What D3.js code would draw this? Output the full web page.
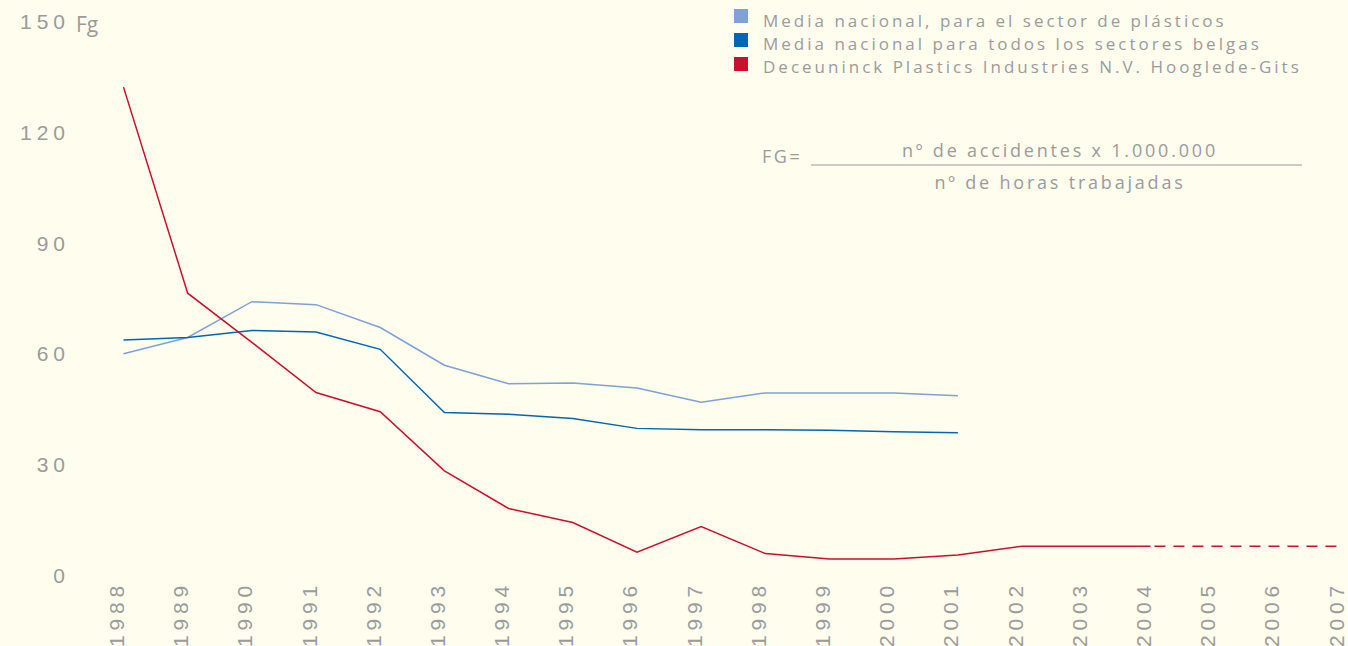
<!DOCTYPE html>
<html>
<head>
<meta charset="utf-8">
<script src="https://cdn.jsdelivr.net/npm/d3@7"></script>
<style>
  body { margin: 0; background: #fffdee; }
  svg { display: block; font-family: "Open Sans", "Noto Sans", sans-serif; }
  .tick text { fill: #9b9b9b; }
</style>
</head>
<body>
<div id="chart"></div>
<script>
// datos
var years = ["1988","1989","1990","1991","1992","1993","1994","1995","1996","1997",
             "1998","1999","2000","2001","2002","2003","2004","2005","2006","2007"];
var yTicks = [0, 30, 60, 90, 120, 150];

var plasticos  = [59.9, 64.3, 74.0, 73.2, 67.0, 56.8, 51.8, 52.0, 50.6, 46.8, 49.3, 49.3, 49.3, 48.5];
var todos      = [63.6, 64.3, 66.2, 65.8, 61.1, 44.0, 43.5, 42.4, 39.7, 39.3, 39.3, 39.2, 38.8, 38.5];
var deceuninck = [132.1, 76.3, 63.0, 49.4, 44.2, 28.2, 18.0, 14.2, 6.2, 13.1, 5.8, 4.3, 4.3, 5.4, 7.8, 7.8, 7.8];
var objetivo   = [7.8, 7.8, 7.8, 7.8]; // 2004 - 2007, a trazos

var legendNames = ["Media nacional, para el sector de plásticos",
                   "Media nacional para todos los sectores belgas",
                   "Deceuninck Plastics Industries N.V. Hooglede-Gits"];
var colors = ["#7fa1d6", "#0066b3", "#c8102e"];

var W = 1348, H = 646;
var svg = d3.select("#chart").append("svg").attr("width", W).attr("height", H);

var x = d3.scalePoint().domain(years).range([123.5, 1343]);
var y = d3.scaleLinear().domain([0, 150]).range([575, 21]);

// eje y
var yAxis = svg.append("g")
  .attr("transform", "translate(70,0)")
  .call(d3.axisLeft(y).tickValues(yTicks).tickSize(0).tickPadding(0));
yAxis.select(".domain").remove();
yAxis.selectAll("text")
  .style("font-size", "21px")
  .style("letter-spacing", "5px")
  .attr("dy", "0.36em");

svg.append("text")
  .attr("x", 76).attr("y", y(150) + 11)
  .style("font-size", "21px").style("fill", "#9b9b9b")
  .text("Fg");

// eje x
var xAxis = svg.append("g")
  .attr("transform", "translate(0,647)")
  .call(d3.axisBottom(x).tickSize(0).tickPadding(0));
xAxis.select(".domain").remove();
xAxis.selectAll("text")
  .style("font-size", "21px")
  .style("letter-spacing", "4.8px")
  .attr("text-anchor", "start")
  .attr("dy", 0).attr("y", 0)
  .attr("transform", "rotate(-90)");

// lineas
var line = d3.line()
  .x(function (d) { return x(d[0]); })
  .y(function (d) { return y(d[1]); });

function pairs(vals, start) {
  return vals.map(function (v, i) { return [years[start + i], v]; });
}

var series = [pairs(plasticos, 0), pairs(todos, 0), pairs(deceuninck, 0)];
series.forEach(function (s, i) {
  svg.append("path")
    .attr("d", line(s))
    .attr("fill", "none")
    .attr("stroke", colors[i])
    .attr("stroke-width", 1.5);
});

svg.append("path")
  .attr("d", line(pairs(objetivo, 16)))
  .attr("fill", "none")
  .attr("stroke", colors[2])
  .attr("stroke-width", 1.5)
  .attr("stroke-dasharray", "11,8")
  .attr("stroke-dashoffset", -4);

// leyenda
var leg = svg.append("g");
legendNames.forEach(function (n, i) {
  leg.append("rect")
    .attr("x", 734).attr("y", 9 + i * 24)
    .attr("width", 14).attr("height", 14)
    .attr("fill", colors[i]);
  leg.append("text")
    .attr("x", 763).attr("y", 27 + i * 23)
    .style("font-size", "17px")
    .style("letter-spacing", "3px")
    .style("fill", "#9b9b9b")
    .text(n);
});

// formula
var f = svg.append("g").style("fill", "#9b9b9b").style("font-size", "18px");
f.append("text").attr("x", 762).attr("y", 163).style("letter-spacing", "2.5px").text("FG=");
f.append("line")
  .attr("x1", 811).attr("x2", 1302).attr("y1", 165).attr("y2", 165)
  .attr("stroke", "#9b9b9b").attr("stroke-width", 1);
f.append("text").attr("x", 1060).attr("y", 157).attr("text-anchor", "middle")
  .style("letter-spacing", "2.8px").text("nº de accidentes x 1.000.000");
f.append("text").attr("x", 1060).attr("y", 189).attr("text-anchor", "middle")
  .style("letter-spacing", "2.8px").text("nº de horas trabajadas");
</script>
</body>
</html>
